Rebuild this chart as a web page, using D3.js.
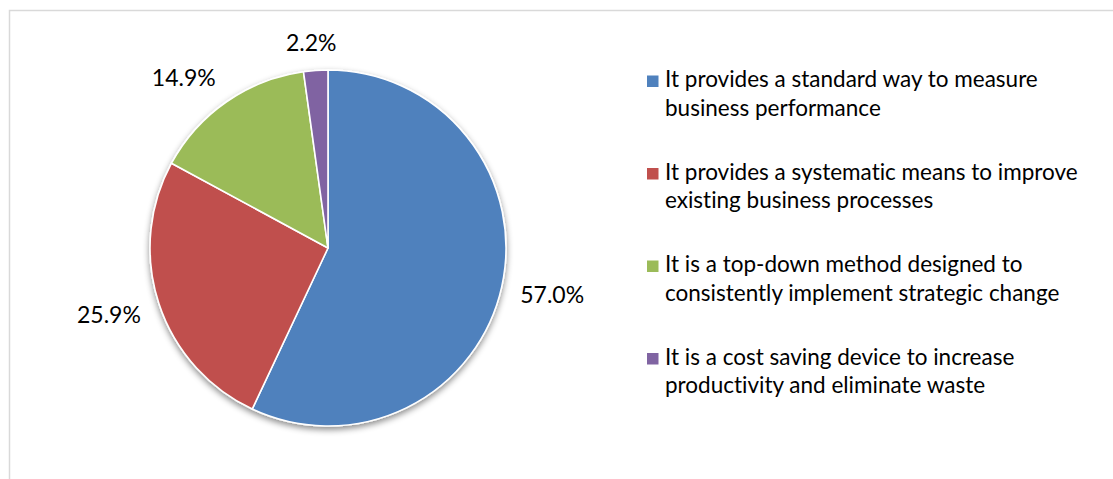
<!DOCTYPE html>
<html>
<head>
<meta charset="utf-8">
<script src="https://cdn.jsdelivr.net/npm/d3@7"></script>
<style>
  html, body { margin: 0; padding: 0; background: #fff; }
  svg { display: block; }
  text { font-variant-ligatures: none; font-feature-settings: "liga" 0; }
</style>
</head>
<body>
<svg id="chart" width="1113" height="479"></svg>
<script>
// Survey responses: share of respondents per view of the method
const categories = [
  "It provides a standard way to measure business performance",
  "It provides a systematic means to improve existing business processes",
  "It is a top-down method designed to consistently implement strategic change",
  "It is a cost saving device to increase productivity and eliminate waste"
];
const legendLines = [
  ["It provides a standard way to measure", "business performance"],
  ["It provides a systematic means to improve", "existing business processes"],
  ["It is a top-down method designed to", "consistently implement strategic change"],
  ["It is a cost saving device to increase", "productivity and eliminate waste"]
];
const values = [57.0, 25.9, 14.9, 2.2];
const colors = ["#4F81BD", "#C0504D", "#9BBB59", "#8064A2"];

const W = 1113, H = 479;
const svg = d3.select("#chart");
const FONT = "Lato, 'Open Sans', sans-serif";

// chart area frame (runs past the right and bottom edges)
svg.append("rect")
  .attr("x", 9.5).attr("y", 10.5)
  .attr("width", 1130).attr("height", 520)
  .attr("fill", "none").attr("stroke", "#d9d9d9").attr("stroke-width", 1.5);

// soft shadow under the pie
const defs = svg.append("defs");
const f = defs.append("filter").attr("id", "pieShadow")
  .attr("x", "-20%").attr("y", "-20%").attr("width", "140%").attr("height", "140%");
f.append("feDropShadow")
  .attr("dx", 0).attr("dy", 3).attr("stdDeviation", 3)
  .attr("flood-color", "#000").attr("flood-opacity", 0.45);

const cx = 328, cy = 248, r = 178;
const pie = d3.pie().sort(null).value(d => d).startAngle(0).endAngle(2 * Math.PI);
const arcs = pie(values);
const arc = d3.arc().innerRadius(0).outerRadius(r);

const g = svg.append("g").attr("transform", `translate(${cx},${cy})`);
g.append("g").attr("filter", "url(#pieShadow)")
  .selectAll("path")
  .data(arcs)
  .join("path")
  .attr("d", arc)
  .attr("fill", (d, i) => colors[i])
  .attr("stroke", "#fff")
  .attr("stroke-width", 1.6)
  .attr("stroke-linejoin", "round");

// percentage labels outside the slices, pushed out along each slice's mid angle
const fmt = d3.format(".1f");
const labelGap = 19;
const capH = 17;
arcs.forEach((d, i) => {
  const mid = (d.startAngle + d.endAngle) / 2;
  const dx = Math.sin(mid), dy = -Math.cos(mid);
  const px = (r + labelGap) * dx, py = (r + labelGap) * dy;
  const t = g.append("text")
    .attr("font-family", FONT)
    .attr("font-size", 23)
    .attr("fill", "#000")
    .text(fmt(d.data) + "%");
  const w = t.node().getComputedTextLength();
  const sx = Math.max(-1, Math.min(1, dx * 1.8));
  const sy = Math.max(-1, Math.min(1, dy * 1.8));
  const mx = px + sx * w / 2;
  const my = py + sy * capH / 2;
  t.attr("x", mx).attr("y", my + capH / 2).attr("text-anchor", "middle");
});

// legend
const legend = svg.append("g").attr("transform", "translate(647,0)");
const itemY = d3.scaleLinear().domain([0, 1]).range([87, 179.5]);
const lineH = 28.5;
legendLines.forEach((lines, i) => {
  const base = itemY(i);
  legend.append("rect")
    .attr("x", 0).attr("y", base - 11.5)
    .attr("width", 11.5).attr("height", 11.5)
    .attr("fill", colors[i]);
  const t = legend.append("text")
    .attr("font-family", FONT)
    .attr("font-size", 22.5)
    .attr("fill", "#000");
  lines.forEach((ln, j) => {
    t.append("tspan").attr("x", 18).attr("y", base + j * lineH).text(ln);
  });
});
</script>
</body>
</html>
